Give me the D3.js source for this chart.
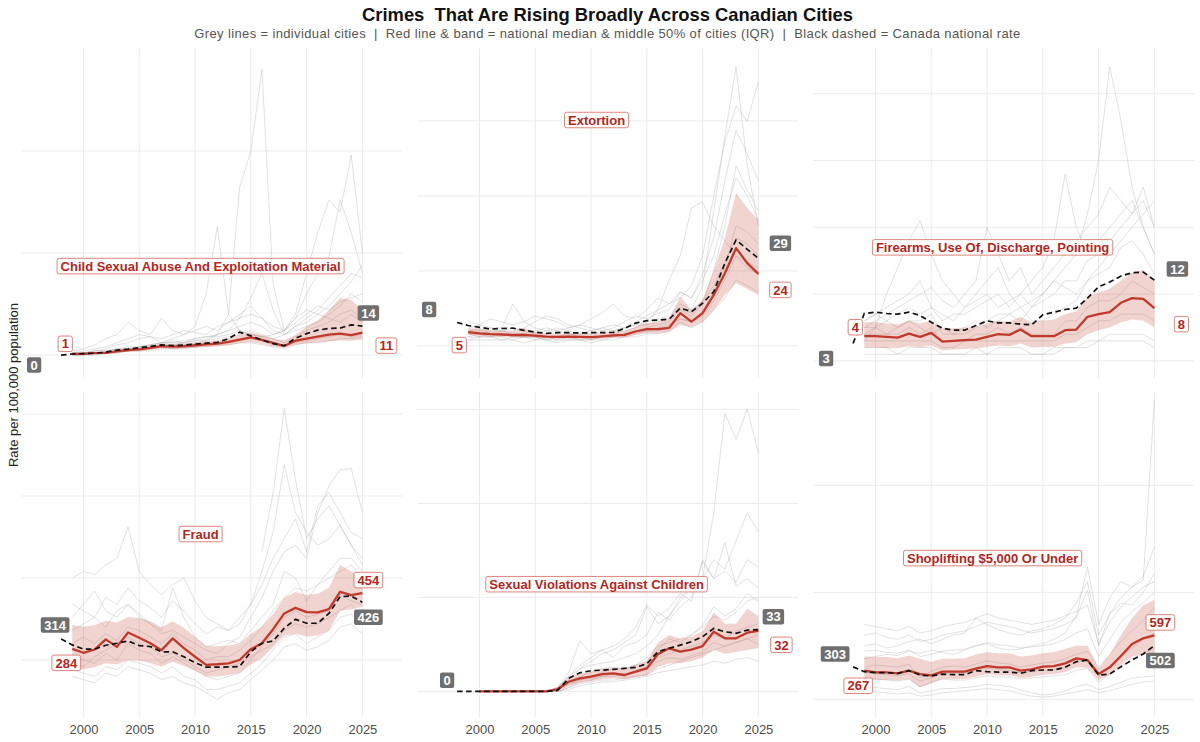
<!DOCTYPE html>
<html>
<head>
<meta charset="utf-8">
<script src="https://cdn.jsdelivr.net/npm/d3@7/dist/d3.min.js"></script>
<style>
  body { margin: 0; background: #fff; }
  svg { font-family: "Liberation Sans", Arial, sans-serif; }
</style>
</head>
<body>
<div id="chart"></div>
<script>
var wd = 1200;
var ht = 742;

// ---- data ----
var crimes = ["Child Sexual Abuse And Exploitation Material", "Extortion", "Firearms, Use Of, Discharge, Pointing",
              "Fraud", "Sexual Violations Against Children", "Shoplifting $5,000 Or Under"];

var natYears = [1998,1999,2000,2001,2002,2003,2004,2005,2006,2007,2008,2009,2010,2011,2012,2013,2014,2015,2016,2017,2018,2019,2020,2021,2022,2023,2024,2025];
var cityYears = [1999,2000,2001,2002,2003,2004,2005,2006,2007,2008,2009,2010,2011,2012,2013,2014,2015,2016,2017,2018,2019,2020,2021,2022,2023,2024,2025];
var xTicks = [2000, 2005, 2010, 2015, 2020, 2025];

// Child sexual abuse material
var natCsam  = [0,0.5,0.7,0.9,1.4,2.4,2.9,3.6,4.2,5.0,4.6,4.9,5.4,5.8,6.2,8.0,11.2,9.4,7.4,5.6,4.6,8.2,10.5,12.2,13.0,13.2,14.8,14.2];
var medCsam  = [0.6,0.6,0.9,1.1,1.8,2.4,2.8,3.5,4.4,4.1,4.3,4.8,5.2,5.6,6.4,7.6,8.6,7.4,6.0,4.4,7.0,8.0,9.0,10.0,10.5,9.8,11.0];
var lowCsam  = [0.2,0.3,0.5,0.7,1.2,1.6,2.0,2.6,3.2,3.0,3.2,3.6,3.9,4.2,4.8,5.8,6.4,5.4,4.2,3.6,5.0,5.8,6.2,6.8,7.2,7.0,7.6];
var highCsam = [1.0,1.1,1.4,1.8,2.6,3.2,3.8,4.6,5.6,5.4,5.6,6.2,6.8,7.2,8.2,10.0,11.2,9.8,8.0,7.2,10.0,14.0,17.0,22.0,28.0,27.0,22.0];
var citiesCsam = [
  [0,0,1,1,2,2,3,3,4,4,5,6,7,10,20,82,100,140,35,12,18,22,20,18,16,20,16],
  [1,1,2,3,5,6,8,9,6,8,10,14,30,63,20,12,10,9,8,10,12,14,16,20,24,30,26],
  [0,1,1,2,3,3,4,5,6,6,7,8,9,9,10,12,10,9,10,12,20,40,60,76,70,98,50],
  [1,1,2,2,3,4,4,5,6,7,6,8,9,10,12,14,16,14,10,12,18,30,40,48,76,60,40],
  [0,0,1,1,2,3,3,4,5,5,6,7,8,10,12,18,28,40,22,10,14,16,20,24,30,36,44],
  [0,0,0,1,1,2,2,3,4,3,4,4,5,5,6,7,8,7,5,4,6,7,8,9,10,9,10],
  [1,1,2,2,3,3,4,5,6,6,6,7,7,8,9,10,12,10,8,6,9,12,14,16,20,22,18],
  [0,0,1,1,1,2,2,2,3,3,3,4,4,5,5,6,6,5,4,3,5,6,6,7,8,8,9],
  [2,3,5,8,10,16,12,10,18,12,10,12,14,12,16,18,20,18,14,12,16,20,24,22,26,28,30],
  [1,2,3,4,6,8,10,9,8,10,12,11,10,14,16,20,24,18,12,10,14,18,22,28,34,40,38]
];

// Extortion
var natExt  = [7.8,6.8,6.2,5.6,5.8,5.9,5.2,4.6,4.2,4.4,4.4,4.3,4.4,4.4,4.5,5.8,7.6,8.4,8.6,8.9,12.6,11.4,14.2,18.1,27.6,35.3,32.2,29.2];
var medExt  = [4.6,4.2,3.9,3.8,3.6,3.7,3.4,3.1,3.0,3.1,3.0,2.9,3.2,3.5,3.7,4.8,5.6,5.6,6.0,10.9,8.1,10.9,17.0,24.2,32.6,27.6,24.0];
var lowExt  = [3.6,3.4,3.1,3.0,2.9,2.9,2.7,2.5,2.4,2.5,2.4,2.3,2.5,2.7,2.9,3.6,4.2,4.2,4.6,7.0,6.2,8.0,12.0,17.0,21.0,19.0,17.0];
var highExt = [6.0,5.6,5.2,5.0,4.8,6.0,4.6,4.2,4.0,4.2,4.0,4.0,4.4,4.8,5.0,6.4,7.6,8.0,9.0,16.5,12.0,15.5,25.0,36.0,51.0,46.0,42.0];
var citiesExt = [
  [5,6,4,5,6,5,4,5,6,5,4,5,6,5,6,7,8,9,10,14,12,20,45,70,93,60,40],
  [8,7,6,5,5,6,8,10,9,7,6,5,6,7,6,8,10,12,14,16,20,30,50,68,80,75,88],
  [3,4,3,3,2,3,3,2,2,3,2,2,3,4,5,6,8,12,22,30,46,48,40,35,30,28,26],
  [4,3,4,4,3,3,3,2,3,3,3,2,3,3,4,5,6,7,8,12,10,14,25,40,60,52,45],
  [2,2,2,2,2,1,2,2,1,2,2,1,2,2,3,3,4,4,5,8,6,8,12,16,22,20,18],
  [6,7,9,8,7,8,10,9,8,6,7,9,11,14,10,9,12,16,14,18,16,22,30,44,56,50,42],
  [3,3,3,4,4,4,3,3,3,4,3,3,3,3,4,5,5,6,7,9,8,10,15,22,30,26,24],
  [5,5,6,6,14,8,6,5,5,6,7,6,5,6,8,10,9,11,12,18,16,24,36,55,72,64,55],
  [4,4,5,5,4,4,5,6,5,4,4,4,5,5,6,7,7,8,9,13,11,15,20,28,36,34,30],
  [2,3,3,2,3,3,2,3,2,2,2,2,2,3,3,4,5,5,6,9,8,11,18,26,40,38,34]
];

// Firearms
var natFire  = [2.6,7.1,7.3,7.1,7.0,7.3,6.8,5.8,4.9,4.6,4.6,5.3,6.0,5.7,5.7,5.5,5.4,6.9,7.3,7.7,7.9,9.4,11.1,11.8,12.7,13.2,13.3,12.1];
var medFire  = [3.7,3.7,3.6,3.5,4.1,3.6,4.2,2.9,3.0,3.1,3.2,3.6,4.0,3.9,4.7,3.7,3.7,3.7,4.6,4.7,6.6,7.0,7.3,8.7,9.4,9.3,7.9];
var lowFire  = [2.0,2.0,1.9,1.9,2.2,2.0,2.3,1.6,1.7,1.8,1.9,2.1,2.3,2.2,2.6,2.0,2.1,2.1,2.6,2.8,4.0,4.6,5.0,5.8,6.2,6.0,5.0];
var highFire = [5.8,5.8,5.6,5.5,6.0,5.6,6.0,4.8,4.9,5.0,5.1,5.6,6.0,5.9,6.6,5.8,6.0,6.2,7.0,7.4,9.6,10.2,10.8,12.0,13.2,13.6,12.0];
var citiesFire = [
  [4,5,6,5,6,5,4,5,4,5,6,5,6,7,6,8,10,12,14,16,22,30,44,36,26,20,16],
  [6,7,8,9,10,12,8,7,6,8,9,10,8,9,10,12,14,18,28,20,16,18,20,22,24,20,16],
  [3,5,10,14,18,21,16,12,10,8,10,12,14,10,8,9,10,12,11,10,12,14,16,18,20,22,24],
  [5,6,7,8,9,10,11,9,8,10,12,20,16,12,14,10,12,14,16,18,20,22,26,24,22,24,20],
  [2,2,2,1,2,2,2,1,1,1,2,1,2,2,2,1,1,2,2,2,2,3,3,3,3,3,2],
  [3,3,3,3,3,3,3,2,2,3,3,3,3,3,3,3,3,3,4,4,5,6,6,7,7,7,6],
  [4,4,4,4,5,4,5,3,3,3,4,4,5,4,5,4,4,4,6,6,8,9,9,10,12,11,10],
  [6,7,6,7,8,7,8,6,7,7,8,9,10,8,10,8,9,10,12,12,15,16,18,20,22,26,20],
  [1,1,1,1,1,1,1,1,1,1,1,1,1,1,1,1,1,1,2,2,3,3,4,4,4,4,3],
  [5,5,4,5,6,6,7,4,4,4,5,6,7,7,8,6,6,7,8,9,12,13,14,17,18,16,13]
];

// Fraud
var natFraud  = [314,296,283,283,295,301,308,294,291,275,275,260,242,228,228,229,230,275,301,308,347,374,362,362,392,443,445,426];
var medFraud  = [284,272,282,313,290,334,318,301,280,316,286,260,235,237,240,250,283,301,344,392,409,396,395,405,458,448,454];
var lowFraud  = [225,222,228,240,236,250,248,240,230,245,232,218,200,200,204,210,236,255,290,325,330,322,325,340,400,405,412];
var highFraud = [357,352,356,370,364,381,378,368,350,368,348,320,292,292,294,300,330,352,390,440,457,448,452,470,540,520,504];
var citiesFraud = [
  [null,null,null,null,null,null,null,null,null,null,null,null,null,null,null,null,null,580,760,1017,800,620,680,720,660,600,560],
  [420,400,380,440,420,470,430,410,380,430,400,360,330,350,340,360,420,520,640,845,700,640,600,620,660,600,540],
  [340,360,380,350,400,420,380,360,330,340,320,300,280,270,300,320,380,440,520,580,600,560,700,780,830,834,700],
  [500,520,510,540,560,656,520,480,450,480,500,430,380,360,340,380,420,480,560,620,680,580,720,760,700,640,620],
  [260,250,240,270,250,300,280,270,240,260,240,220,200,190,200,210,250,290,330,380,400,380,390,400,450,430,420],
  [300,320,300,330,310,350,340,320,300,330,300,280,250,260,260,280,310,350,400,440,470,460,480,500,520,540,500],
  [220,210,200,230,220,250,240,230,210,230,200,190,160,160,170,180,210,240,280,320,330,300,320,340,380,390,360],
  [380,420,460,400,380,420,390,360,340,470,380,320,290,300,310,300,340,380,420,520,500,430,480,520,560,560,520],
  [240,230,260,280,300,320,300,290,260,270,250,230,210,220,230,240,260,280,300,340,360,350,360,380,400,420,380],
  [200,190,180,210,200,230,220,210,190,200,180,170,150,130,150,160,190,220,250,290,300,280,290,310,350,360,330]
];

// Sexual violations against children
var natSvc  = [0,0,0,0,0,0,0,0,0,0.5,6.9,9.9,11.0,11.3,11.7,12.2,12.8,14.6,21.1,22.9,24.6,26.4,29.1,33.5,31.7,30.9,32.6,32.8];
var medSvc  = [null,0,0,0,0,0,0,0,1.1,5.1,6.9,7.8,9.2,9.6,8.7,10.5,12.2,19.8,22.9,21.1,22.2,24.1,31.7,28.2,28.2,31.2,32.2];
var lowSvc  = [null,0,0,0,0,0,0,0,0.3,3,4.5,5.5,6.5,7,6.5,7.5,8.5,13,15,15,16,18,22,20,21,22,23];
var highSvc = [null,0,0,0,0,0,0.2,0.5,2,7.5,9.5,10.5,12,12.5,12,14,16,26,30,28,29,32,42,36,36,44,40];
var citiesSvc = [
  [null,0,0,0,0,0,0,0,2,8,12,14,15,16,18,20,24,30,40,48,55,60,95,148,134,150,127],
  [null,0,0,0,0,0,0,0,1,6,12,16,20,22,26,30,45,36,40,50,55,60,70,65,80,95,85],
  [null,0,0,0,0,0,0,0,2,10,27,20,22,18,24,26,30,42,38,45,50,70,60,79,56,60,55],
  [null,0,0,0,0,0,0,0,0,3,6,8,10,12,12,14,16,22,28,26,30,34,40,38,42,48,50],
  [null,0,0,0,0,0,0,0,0,2,4,5,6,6,7,8,9,12,14,16,18,20,22,24,26,28,30],
  [null,0,0,0,0,0,0,0,1,4,6,7,8,9,8,10,12,16,18,17,19,21,26,24,26,28,25],
  [null,0,0,0,0,0,0,0,0,1,3,4,5,5,6,7,8,10,11,12,13,14,16,15,17,18,16],
  [null,0,0,0,0,0,0,0,2,8,14,18,22,24,28,34,46,40,44,52,48,69,60,64,58,70,66],
  [null,0,0,0,0,0,0,0,0,2,5,6,8,8,9,11,13,18,20,22,24,26,30,28,32,34,36],
  [null,0,0,0,0,0,0,0,1,5,8,10,12,13,12,14,18,24,26,28,30,35,45,40,44,52,48]
];

// Shoplifting $5,000 or under
var natShop  = [303,258,249,249,243,268,227,218,236,230,230,268,258,255,255,243,268,274,274,299,352,367,227,236,305,367,424,502];
var medShop  = [267,252,252,243,268,236,224,258,258,258,286,311,299,299,268,280,305,311,336,383,367,236,299,405,517,570,597];
var lowShop  = [185,182,180,175,190,110,150,190,190,190,210,236,225,225,200,210,230,235,255,300,295,180,230,320,400,420,430];
var highShop = [400,395,395,385,410,380,350,380,380,385,420,440,430,430,400,410,430,440,470,500,500,290,420,600,760,880,930];
var citiesShop = [
  [500,520,480,500,540,560,520,560,600,620,760,700,650,620,600,640,660,700,760,900,1100,600,800,950,1050,1115,2797],
  [380,400,420,410,450,430,460,440,420,460,500,520,480,460,470,500,520,560,620,780,1239,700,950,1100,1050,1150,1426],
  [600,620,580,560,600,540,560,600,620,640,680,720,700,680,650,620,640,660,700,760,1022,500,800,900,880,1000,1178],
  [300,320,310,300,330,200,260,300,310,300,330,360,340,330,300,320,340,350,380,420,450,300,420,540,640,740,860],
  [200,190,180,170,190,120,160,190,180,180,200,220,210,210,190,200,210,220,230,270,290,160,230,300,380,430,480],
  [120,110,100,90,120,60,80,100,100,110,120,140,130,120,90,60,40,50,80,120,140,90,120,160,200,210,220],
  [700,680,660,640,680,620,640,680,700,720,760,800,760,740,720,700,720,740,780,820,880,520,720,860,960,1050,1100],
  [250,240,230,220,240,170,200,240,240,250,270,290,280,270,250,260,270,280,300,350,360,220,300,400,480,560,620],
  [450,460,440,430,460,400,420,450,460,470,500,530,510,500,480,490,500,520,560,620,660,400,560,720,820,900,1000],
  [80,70,60,50,60,30,40,60,70,80,90,100,90,80,50,30,20,30,50,70,90,60,80,110,140,160,170]
];

// where the crime name sits in each panel (data units)
var titleYear = 2010.5;
var titleValue = [43.6, 75.3, 17, 634, 57, 1320];

// ---- layout ----
var xDomain = [1994.45, 2028.55];
var yDomain = [[-11.4, 150.3], [-10.8, 99.2], [-2.6, 46.8], [75.3, 1068], [-13.8, 159.4], [-168, 2875]];
var yBreaks = [[0, 50, 100], [0, 25, 50, 75], [0, 10, 20, 30, 40], [250, 500, 750, 1000], [0, 50, 100, 150], [0, 1000, 2000]];
var panelLeft = [21.5, 417.5, 813.5];
var panelW = 380.5;
var rowTop = [48.3, 391.7];
var rowBot = [378.3, 717.3];

// label offsets in px: national start, median start, national end, median end
var nudges = [
  [[-27, 10], [-7, -10], [6, -13], [24, 13]],
  [[-28, -13], [-9, 13], [22, -15], [22, 16]],
  [[-27, 15], [-9, -9], [23, -11], [27, 16]],
  [[-6, -14], [-6, 14], [6, 15], [6, -13]],
  [[-10, -11], null, [15, -13], [23, 14]],
  [[-18, -13], [-6, 15], [6, 15], [6, -13]]
];

var red = "#c0392b";
var redText = "#b3261e";
var redBorder = "#d9786e";
var greyLab = "#6f6f6f";

var panels = [
  { name: crimes[0], nat: natCsam,  med: medCsam,  low: lowCsam,  high: highCsam,  cities: citiesCsam },
  { name: crimes[1], nat: natExt,   med: medExt,   low: lowExt,   high: highExt,   cities: citiesExt },
  { name: crimes[2], nat: natFire,  med: medFire,  low: lowFire,  high: highFire,  cities: citiesFire },
  { name: crimes[3], nat: natFraud, med: medFraud, low: lowFraud, high: highFraud, cities: citiesFraud },
  { name: crimes[4], nat: natSvc,   med: medSvc,   low: lowSvc,   high: highSvc,   cities: citiesSvc },
  { name: crimes[5], nat: natShop,  med: medShop,  low: lowShop,  high: highShop,  cities: citiesShop }
];

var svg = d3.select("#chart").append("svg").attr("width", wd).attr("height", ht);

svg.append("text")
   .attr("x", 607.5).attr("y", 20.8)
   .attr("text-anchor", "middle")
   .attr("textLength", 491).attr("lengthAdjust", "spacingAndGlyphs")
   .style("font-size", "19px").style("font-weight", "bold").style("fill", "#111")
   .style("white-space", "pre")
   .text("Crimes  That Are Rising Broadly Across Canadian Cities");

svg.append("text")
   .attr("x", 607.3).attr("y", 37.5)
   .attr("text-anchor", "middle")
   .attr("textLength", 826).attr("lengthAdjust", "spacing")
   .style("font-size", "13px").style("fill", "#555")
   .style("white-space", "pre")
   .text("Grey lines = individual cities  |  Red line & band = national median & middle 50% of cities (IQR)  |  Black dashed = Canada national rate");

svg.append("text")
   .attr("transform", "translate(13," + 385 + ") rotate(-90)")
   .attr("text-anchor", "middle")
   .attr("dy", "0.35em")
   .style("font-size", "13px").style("fill", "#222")
   .text("Rate per 100,000 population");

function addLabel(g, cx, cy, txt, kind)
{
  var lab = g.append("g").attr("transform", "translate(" + cx + "," + cy + ")");
  var rect = lab.append("rect");
  var t = lab.append("text")
             .attr("text-anchor", "middle")
             .attr("dy", "0.36em")
             .style("font-size", "13px").style("font-weight", "bold")
             .style("fill", kind == "grey" ? "#fff" : redText)
             .text(txt);
  var w = t.node().getComputedTextLength() + 7;
  var h = 15.5;
  rect.attr("x", -w / 2).attr("y", -h / 2).attr("width", w).attr("height", h)
      .attr("rx", 2)
      .attr("fill", kind == "grey" ? greyLab : "#fff")
      .attr("stroke", kind == "grey" ? "none" : redBorder)
      .attr("stroke-width", 0.9);
}

function lastIdx(arr) { for (var k = arr.length - 1; k >= 0; k--) if (arr[k] != null) return k; }
function firstIdx(arr) { for (var k = 0; k < arr.length; k++) if (arr[k] != null) return k; }

panels.forEach(function(p, i)
{
  var col = i % 3, row = Math.floor(i / 3);
  var xScale = d3.scaleLinear().domain(xDomain).range([panelLeft[col], panelLeft[col] + panelW]);
  var yScale = d3.scaleLinear().domain(yDomain[i]).range([rowBot[row], rowTop[row]]);
  var g = svg.append("g").attr("class", "panel");

  // grid
  g.selectAll("line.h").data(yBreaks[i]).enter().append("line")
   .attr("x1", xScale.range()[0]).attr("x2", xScale.range()[1])
   .attr("y1", function(d){ return yScale(d); }).attr("y2", function(d){ return yScale(d); })
   .attr("stroke", "#ebebeb").attr("stroke-width", 1);
  g.selectAll("line.v").data(xTicks).enter().append("line")
   .attr("x1", function(d){ return xScale(d); }).attr("x2", function(d){ return xScale(d); })
   .attr("y1", rowTop[row]).attr("y2", rowBot[row])
   .attr("stroke", "#ebebeb").attr("stroke-width", 1);

  var line = d3.line()
               .defined(function(d){ return d[1] != null; })
               .x(function(d){ return xScale(d[0]); })
               .y(function(d){ return yScale(d[1]); });

  // individual cities
  p.cities.forEach(function(c)
  {
    g.append("path")
     .datum(cityYears.map(function(yr, k){ return [yr, c[k]]; }))
     .attr("d", line)
     .attr("fill", "none").attr("stroke", "#a8a8a8").attr("stroke-opacity", 0.5).attr("stroke-width", 0.7);
  });

  // IQR band
  var area = d3.area()
               .defined(function(d, k){ return p.low[k] != null; })
               .x(function(d){ return xScale(d); })
               .y0(function(d, k){ return yScale(p.low[k]); })
               .y1(function(d, k){ return yScale(p.high[k]); });
  g.append("path").datum(cityYears).attr("d", area)
   .attr("fill", red).attr("fill-opacity", 0.22);

  // median
  g.append("path")
   .datum(cityYears.map(function(yr, k){ return [yr, p.med[k]]; }))
   .attr("d", line)
   .attr("fill", "none").attr("stroke", red).attr("stroke-width", 2.3).attr("stroke-linejoin", "round");

  // national
  g.append("path")
   .datum(natYears.map(function(yr, k){ return [yr, p.nat[k]]; }))
   .attr("d", line)
   .attr("fill", "none").attr("stroke", "#111").attr("stroke-width", 1.7).attr("stroke-dasharray", "5.5,3.5");

  // crime name
  addLabel(g, xScale(titleYear), yScale(titleValue[i]), p.name, "red");

  // start / end values
  var n = nudges[i];
  var fmt = function(v){ return String(Math.round(v)); };
  var a0 = firstIdx(p.nat), m0 = firstIdx(p.med), a1 = lastIdx(p.nat), m1 = lastIdx(p.med);
  if (n[0]) addLabel(g, xScale(natYears[a0]) + n[0][0], yScale(p.nat[a0]) + n[0][1], fmt(p.nat[a0]), "grey");
  if (n[1]) addLabel(g, xScale(cityYears[m0]) + n[1][0], yScale(p.med[m0]) + n[1][1], fmt(p.med[m0]), "red");
  if (n[2]) addLabel(g, xScale(natYears[a1]) + n[2][0], yScale(p.nat[a1]) + n[2][1], fmt(p.nat[a1]), "grey");
  if (n[3]) addLabel(g, xScale(cityYears[m1]) + n[3][0], yScale(p.med[m1]) + n[3][1], fmt(p.med[m1]), "red");

  // x axis on bottom row
  if (row == 1)
  {
    var xAxis = d3.axisBottom(xScale).tickValues(xTicks).tickFormat(d3.format("d")).tickSize(0).tickPadding(7);
    var ax = svg.append("g").attr("transform", "translate(0," + rowBot[row] + ")").call(xAxis);
    ax.select(".domain").remove();
    ax.selectAll("text").style("font-size", "13px").style("fill", "#4d4d4d")
      .style("font-family", "'Liberation Sans', Arial, sans-serif");
  }
});
</script>
</body>
</html>
